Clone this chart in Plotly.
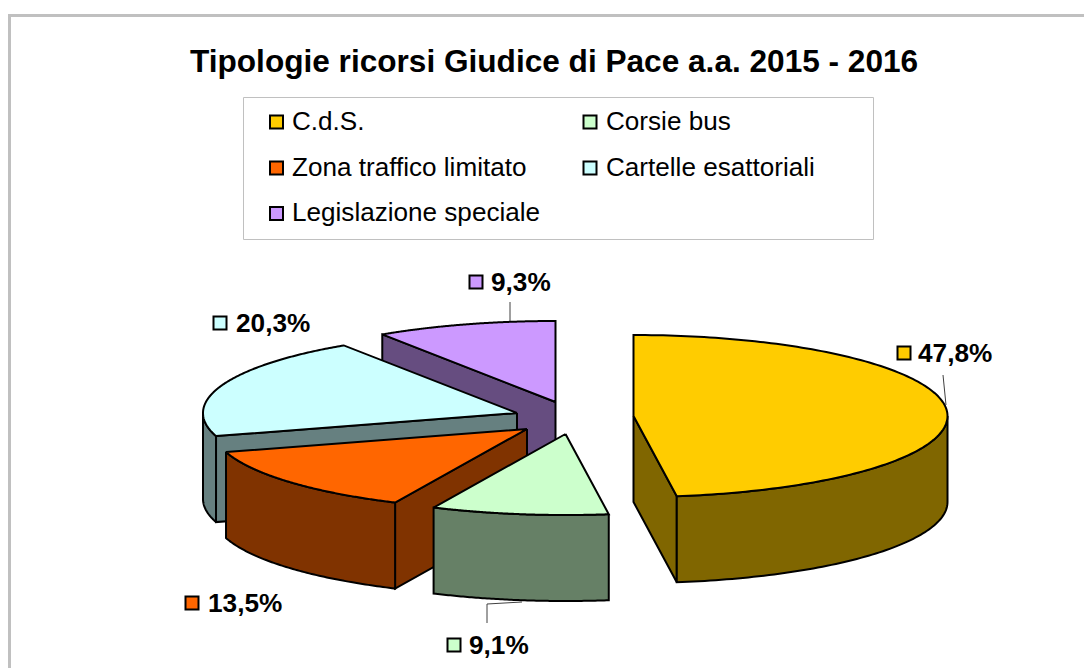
import numpy as np
import plotly.graph_objects as go

# Data
categories = ["C.d.S.", "Corsie bus", "Zona traffico limitato", "Cartelle esattoriali", "Legislazione speciale"]
values = [47.8, 9.1, 13.5, 20.3, 9.3]
value_labels = ["47,8%", "9,1%", "13,5%", "20,3%", "9,3%"]
title_text = "Tipologie ricorsi Giudice di Pace a.a. 2015 - 2016"

# Style
top_colors = ["#FFCC00", "#CCFFCC", "#FF6600", "#CCFFFF", "#CC99FF"]
wall_colors = ["#806600", "#668066", "#803300", "#668080", "#664D80"]

# Projection of the exploded pie, in page pixels
apex_x = [633.5, 565.5, 527, 517, 555.5]
apex_y = [416, 434, 429, 413, 402]
RX, RY, DEPTH = 314, 81, 86
draw_order = [4, 3, 2, 1, 0]

# Legend and label placement, in page pixels
legend_x = [276.5, 590, 276.5, 590, 276.5]
legend_y = [122, 122, 168, 168, 213.5]
label_x = [904, 454, 192, 220, 476]
label_y = [353, 645, 603, 323, 282]
label_gap = [11.5, 13, 13.5, 13.5, 13]
leaders = [
    ([943, 946], [375, 405]),
    ([487, 487, 522], [623, 604, 602]),
    ([510, 510], [302, 321]),
]

fig = go.Figure()


def poly(xs, ys, fill, lw=2, color="black"):
    fig.add_trace(go.Scatter(x=list(xs), y=list(ys), mode="lines", fill="toself", fillcolor=fill,
                             line=dict(color=color, width=lw, simplify=False),
                             hoverinfo="skip", showlegend=False))


def pt(cx, cy, deg):
    a = np.radians(deg)
    return cx + RX * np.sin(a), cy - RY * np.cos(a)


total = sum(values)
edges = np.concatenate([[0], np.cumsum(values)]) / total * 360.0

for i in draw_order:
    cx, cy = apex_x[i], apex_y[i]
    a0, a1 = edges[i], edges[i + 1]
    # radial faces that look towards the viewer
    for ang, side in ((a0, -90), (a1, 90)):
        if np.cos(np.radians(ang + side)) < 0:
            ex, ey = pt(cx, cy, ang)
            poly([cx, ex, ex, cx, cx], [cy, ey, ey + DEPTH, cy + DEPTH, cy], wall_colors[i])
    # outer wall, only the front half of the rim shows
    lo, hi = max(a0, 90), min(a1, 270)
    if lo < hi:
        t = np.linspace(lo, hi, 80)
        xs, ys = pt(cx, cy, t)
        poly(np.r_[xs, xs[::-1], xs[0]], np.r_[ys, ys[::-1] + DEPTH, ys[0]], wall_colors[i])
    # top face
    t = np.linspace(a0, a1, 160)
    xs, ys = pt(cx, cy, t)
    poly(np.r_[cx, xs, cx], np.r_[cy, ys, cy], top_colors[i])

# leader lines
for lx, ly in leaders:
    fig.add_trace(go.Scatter(x=lx, y=ly, mode="lines", line=dict(color="#404040", width=1),
                             hoverinfo="skip", showlegend=False))

# legend keys
fig.add_trace(go.Scatter(x=legend_x, y=legend_y, mode="markers",
                         marker=dict(symbol="square", size=13, color=top_colors,
                                     line=dict(color="black", width=2)),
                         hoverinfo="skip", showlegend=False))
# label keys
fig.add_trace(go.Scatter(x=label_x, y=label_y, mode="markers",
                         marker=dict(symbol="square", size=13, color=top_colors,
                                     line=dict(color="black", width=2)),
                         hoverinfo="skip", showlegend=False))

FONT = "Liberation Sans"
ann = []
for name, x, y in zip(categories, legend_x, legend_y):
    ann.append(dict(x=x + 13.5, y=y - 1.5, text=name, showarrow=False, xanchor="left", yanchor="middle",
                    font=dict(family=FONT, size=26.1, color="black")))
for lab, x, y, g in zip(value_labels, label_x, label_y, label_gap):
    ann.append(dict(x=x + g, y=y, text="<b>%s</b>" % lab, showarrow=False, xanchor="left", yanchor="middle",
                    font=dict(family=FONT, size=26.2, color="black")))
ann.append(dict(x=554, y=61, text="<b>%s</b>" % title_text, showarrow=False, xanchor="center", yanchor="middle",
                font=dict(family=FONT, size=31.6, color="black")))

shapes = [
    dict(type="rect", x0=9.5, y0=15.5, x1=1300, y1=900, line=dict(color="#C0C0C0", width=3), layer="below"),
    dict(type="rect", x0=243.5, y0=97.5, x1=873.5, y1=239.5, line=dict(color="#C0C0C0", width=1), layer="below"),
]

fig.update_layout(
    width=1084, height=668, margin=dict(l=0, r=0, t=0, b=0),
    paper_bgcolor="white", plot_bgcolor="white",
    xaxis=dict(range=[0, 1084], visible=False, fixedrange=True),
    yaxis=dict(range=[668, 0], visible=False, fixedrange=True),
    annotations=ann, shapes=shapes, showlegend=False,
)
fig.write_html("out.html", config={"displayModeBar": False},
               post_script="document.body.style.margin='0';document.body.style.overflow='hidden';")
